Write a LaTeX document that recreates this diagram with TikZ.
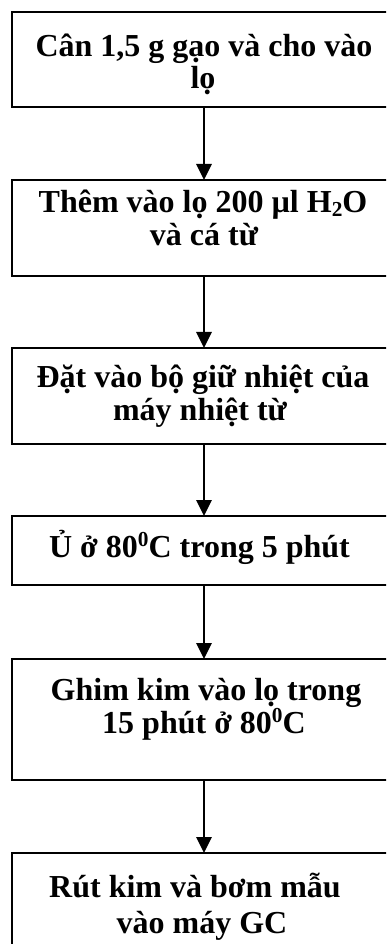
\documentclass[tikz,border=0pt]{standalone}
\usepackage{fontspec}
\setmainfont{Liberation Serif}
\usetikzlibrary{arrows.meta}
\newcommand{\degsup}{\raisebox{7.8pt}{\fontsize{16pt}{16pt}\selectfont 0}}
\newcommand{\lowsub}[1]{\raisebox{-3pt}{\fontsize{16pt}{16pt}\selectfont #1}}
\tikzset{
  box/.style={draw=black, line width=1.5pt, rectangle, inner sep=0pt, outer sep=0pt, minimum width=288pt},
  txt/.style={anchor=base, inner sep=0pt, font=\fontsize{24pt}{28pt}\selectfont\bfseries},
  arr/.style={draw=black, line width=1.5pt, -{Triangle[width=11.5pt,length=12pt]}}
}
\begin{document}
\begin{tikzpicture}[x=0.75pt,y=-0.75pt]
\useasboundingbox (0,0) rectangle (386,944);
\clip (0,0) rectangle (386,944);
% boxes
\node[box, minimum height=71.25pt] (b1) at (204,59.5) {};
\node[box, minimum height=72pt]    (b2) at (204,228) {};
\node[box, minimum height=72pt]    (b3) at (204,396) {};
\node[box, minimum height=51.75pt] (b4) at (204,550.5) {};
\node[box, minimum height=90.75pt] (b5) at (204,719.5) {};
\node[box, minimum height=75pt]    (b6) at (204,903) {};
% texts
\node[txt] (t1a) at (204,57) {Cân 1,5 g gạo và cho vào};
\node[txt] (t1b) at (203,89) {lọ};
\node[txt] (t2a) at (203,213) {Thêm vào lọ 200 µl H\lowsub{2}O};
\node[txt] (t2b) at (204,246) {và cá từ};
\node[txt] (t3a) at (203,387) {Đặt vào bộ giữ nhiệt của};
\node[txt] (t3b) at (200,420) {máy nhiệt từ};
\node[txt] (t4a) at (199.5,557) {Ủ ở 80\degsup C trong 5 phút};
\node[txt] (t5a) at (206,700) {Ghim kim vào lọ trong};
\node[txt] (t5b) at (204,733) {15 phút ở 80\degsup C};
\node[txt] (t6a) at (195,897) {Rút kim và bơm mẫu};
\node[txt] (t6b) at (202,933) {vào máy GC};
% arrows
\draw[arr] (b1.south) -- (b2.north);
\draw[arr] (b2.south) -- (b3.north);
\draw[arr] (b3.south) -- (b4.north);
\draw[arr] (b4.south) -- (b5.north);
\draw[arr] (b5.south) -- (b6.north);
\end{tikzpicture}
\end{document}
